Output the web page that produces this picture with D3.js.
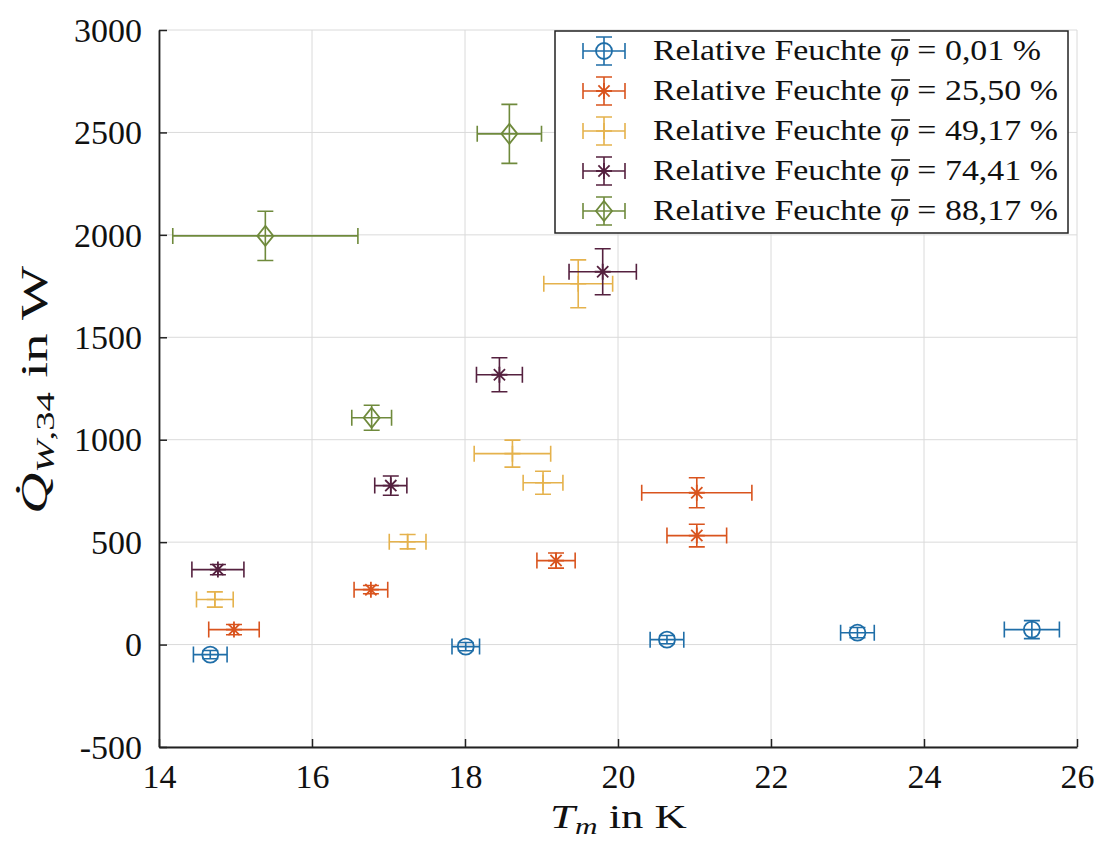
<!DOCTYPE html>
<html><head><meta charset="utf-8">
<script src="https://cdn.jsdelivr.net/npm/d3@7"></script>
<style>body{margin:0;background:#fff}text{font-family:"Liberation Serif","DejaVu Serif",serif;fill:#111}</style>
</head><body><svg id="c" width="1099" height="843"></svg>
<script>
// Data: each point [T_m, Q, xErr, yErr]
const seriesNames = ["0,01", "25,50", "49,17", "74,41", "88,17"];
const seriesColors = ["#1f6ea8", "#d9541e", "#e5b24c", "#55213f", "#6f8a3c"];
const seriesMarkers = ["circle", "asterisk", "plus", "asterisk", "diamond"];
const s1 = [[14.67,-49,0.22,20],[18.01,-10,0.18,20],[20.64,24,0.22,20],[23.13,58,0.22,25],[25.41,73,0.36,44]];
const s2 = [[14.98,73,0.33,25],[16.77,268,0.22,20],[19.19,410,0.25,37],[21.03,741,0.72,73],[21.03,532,0.39,55]];
const s3 = [[14.73,220,0.24,37],[17.25,502,0.24,35],[18.62,932,0.5,66],[19.02,790,0.26,56],[19.48,1761,0.45,117]];
const s4 = [[14.77,366,0.34,25],[17.03,776,0.21,47],[18.45,1317,0.3,83],[19.80,1820,0.44,112]];
const s5 = [[15.39,1995,1.21,120],[16.78,1107,0.26,61],[18.58,2493,0.42,144]];
const allSeries = [s1,s2,s3,s4,s5];
const xTicks = [14,16,18,20,22,24,26];
const yTicks = [-500,0,500,1000,1500,2000,2500,3000];

const svg = d3.select("#c");
const L=159, R=1077, T=30, B=747;
const x = d3.scaleLinear().domain([14,26]).range([L,R]);
const y = d3.scaleLinear().domain([-500,3000]).range([B,T]);

// grid
svg.append("g").selectAll("line").data(xTicks).join("line")
  .attr("x1",d=>x(d)).attr("x2",d=>x(d)).attr("y1",T).attr("y2",B)
  .attr("stroke","#dadada").attr("stroke-width",1);
svg.append("g").selectAll("line").data(yTicks).join("line")
  .attr("y1",d=>y(d)).attr("y2",d=>y(d)).attr("x1",L).attr("x2",R)
  .attr("stroke","#dadada").attr("stroke-width",1);

// axes
const fmt = d => String(d);
const xAxis = svg.append("g").attr("transform",`translate(0,${B})`)
  .call(d3.axisBottom(x).tickValues(xTicks).tickFormat(fmt).tickSizeInner(-8).tickSizeOuter(0).tickPadding(12));
const yAxis = svg.append("g").attr("transform",`translate(${L},0)`)
  .call(d3.axisLeft(y).tickValues(yTicks).tickFormat(fmt).tickSizeInner(-8).tickSizeOuter(0).tickPadding(17));
[xAxis,yAxis].forEach(a=>{
  a.select(".domain").attr("stroke","#222").attr("stroke-width",1.8);
  a.selectAll(".tick line").attr("stroke","#222").attr("stroke-width",1.5);
  a.selectAll(".tick text").style("font-family","'Liberation Serif',serif").style("font-size","34px").attr("fill","#111");
});
xAxis.selectAll(".tick text").attr("dy","0.85em");
yAxis.selectAll(".tick text").attr("dy","0.33em");

function drawMarker(g, type, color, cx, cy){
  const r=8;
  if(type==="circle"){
    g.append("circle").attr("cx",cx).attr("cy",cy).attr("r",r).attr("fill","none").attr("stroke",color).attr("stroke-width",1.8);
  } else if(type==="diamond"){
    g.append("path").attr("d",`M${cx},${cy-r-2}L${cx+r},${cy}L${cx},${cy+r+2}L${cx-r},${cy}Z`).attr("fill","none").attr("stroke",color).attr("stroke-width",1.8);
  } else if(type==="asterisk"){
    const a=r, b=r*0.7;
    g.append("path").attr("d",`M${cx-a},${cy}H${cx+a}M${cx},${cy-a}V${cy+a}M${cx-b},${cy-b}L${cx+b},${cy+b}M${cx-b},${cy+b}L${cx+b},${cy-b}`)
      .attr("stroke",color).attr("stroke-width",1.8).attr("fill","none");
  } else if(type==="plus"){
    g.append("path").attr("d",`M${cx-r},${cy}H${cx+r}M${cx},${cy-r}V${cy+r}`).attr("stroke",color).attr("stroke-width",1.6);
  }
}
function drawErr(g,color,cx,cy,x0,x1,y0,y1){
  const c=8;
  g.append("path").attr("d",
    `M${x0},${cy}H${x1}M${x0},${cy-c}V${cy+c}M${x1},${cy-c}V${cy+c}`+
    `M${cx},${y0}V${y1}M${cx-c},${y0}H${cx+c}M${cx-c},${y1}H${cx+c}`)
    .attr("stroke",color).attr("stroke-width",1.6).attr("fill","none");
}

allSeries.forEach((s,i)=>{
  const g = svg.append("g");
  s.forEach(p=>{
    const cx=x(p[0]), cy=y(p[1]);
    drawErr(g,seriesColors[i],cx,cy,x(p[0]-p[2]),x(p[0]+p[2]),y(p[1]-p[3]),y(p[1]+p[3]));
    drawMarker(g,seriesMarkers[i],seriesColors[i],cx,cy);
  });
});

// legend
const lg = svg.append("g");
lg.append("rect").attr("x",555).attr("y",31).attr("width",513).attr("height",202)
  .attr("fill","#fff").attr("stroke","#222").attr("stroke-width",1.5);
const rows = [];
seriesNames.forEach((n,i)=>{
  const cy = 51 + i*40, cx = 604;
  drawErr(lg,seriesColors[i],cx,cy,cx-21,cx+21,cy-14,cy+14);
  drawMarker(lg,seriesMarkers[i],seriesColors[i],cx,cy);
  const rg = lg.append("g");
  const t = rg.append("text").attr("x",0).attr("y",0).style("font-size","30px");
  t.append("tspan").text("Relative Feuchte ");
  t.append("tspan").text("φ").style("font-style","italic");
  t.append("tspan").text(` = ${n} %`);
  rows.push({rg,t,cy});
});
const wRef = rows[1].t.node().getComputedTextLength();
const sx = 405 / wRef;
rows.forEach(({rg,t,cy})=>{
  rg.attr("transform",`translate(653,${cy+9}) scale(${sx},1)`);
  const node = t.node();
  const idx = "Relative Feuchte ".length;
  const ext = node.getExtentOfChar(idx);
  rg.append("line").attr("x1",ext.x+1).attr("x2",ext.x+ext.width+1)
    .attr("y1",-20).attr("y2",-20).attr("stroke","#111").attr("stroke-width",1.6);
});

// axis labels
const xg = svg.append("g");
const xl = xg.append("text").attr("x",0).attr("y",0).style("font-size","33px");
xl.append("tspan").text("T").style("font-style","italic");
xl.append("tspan").text("m").style("font-style","italic").style("font-size","23px").attr("dy",6);
xl.append("tspan").text(" in K").attr("dy",-6);
const xw = xl.node().getComputedTextLength();
const xsx = 137 / xw;
xg.attr("transform",`translate(550,828) scale(${xsx},1)`);

const yg = svg.append("g");
const yl = yg.append("text").attr("x",0).attr("y",0).style("font-size","37px");
yl.append("tspan").text("Q\u0307").style("font-style","italic");
yl.append("tspan").text("W").style("font-style","italic").style("font-size","25px").attr("dy",7);
yl.append("tspan").text(",34").style("font-size","25px");
yl.append("tspan").text(" in W").attr("dy",-7);
const yw = yl.node().getComputedTextLength();
const ysx = 248 / yw;
yg.attr("transform",`translate(47,514) rotate(-90) scale(${ysx},1)`);
</script></body></html>
